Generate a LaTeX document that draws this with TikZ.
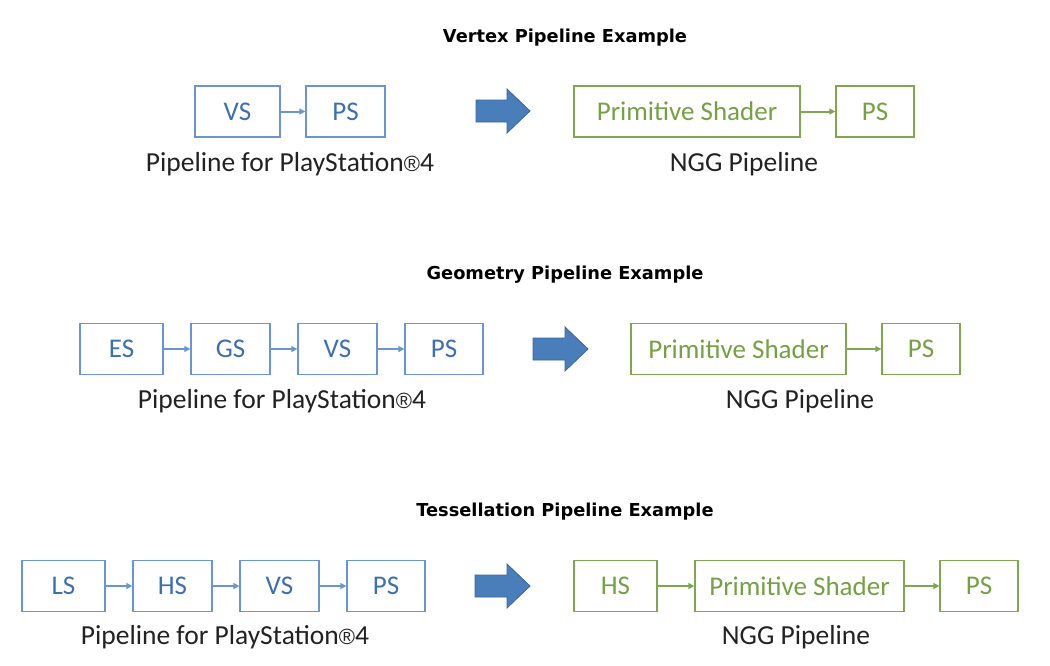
\documentclass[tikz,border=0pt]{standalone}
\usepackage{fontspec}
\setmainfont{Carlito}
\newfontfamily\titlefont{DejaVu Sans}
\newfontfamily\regfont{Liberation Sans}
\newcommand{\regmark}{{\regfont\fontsize{22}{26}\selectfont ®}}
\usetikzlibrary{arrows.meta}
\definecolor{bbord}{HTML}{6A95CF}
\definecolor{btext}{HTML}{3E6FAE}
\definecolor{gbord}{HTML}{7FA651}
\definecolor{gtext}{HTML}{75A045}
\definecolor{bfill}{HTML}{4A7EBB}
\definecolor{bdark}{HTML}{3A669A}
\definecolor{ltext}{HTML}{222222}
\begin{document}
\begin{tikzpicture}[x=1pt,y=-1pt,
  bbox/.style={draw=bbord,line width=1.3pt,text=btext,minimum height=51pt,inner sep=0pt,font=\fontsize{27}{31}\selectfont},
  gbox/.style={draw=gbord,line width=1.3pt,text=gtext,minimum height=51pt,inner sep=0pt,font=\fontsize{27}{31}\selectfont},
  barr/.style={draw=bbord,line width=2pt,-{Triangle[length=6pt,width=6pt]}},
  garr/.style={draw=gbord,line width=2pt,-{Triangle[length=6pt,width=6pt]}},
  lbl/.style={text=ltext,font=\fontsize{27.5}{31}\selectfont,inner sep=0pt},
  ttl/.style={text=black,font=\titlefont\bfseries\fontsize{17.8}{20}\selectfont,inner sep=0pt},
  bigarrow/.style={fill=bfill,draw=bdark,line width=0.8pt}]
\useasboundingbox (0,0) rectangle (1050,665);
\fill[white] (0,0) rectangle (1050,665);

% Row 1
\node[ttl] (t1) at (565,37.5) {Vertex Pipeline Example};
\node[bbox,minimum width=85pt] (v1vs) at (237.5,111.5) {VS};
\node[bbox,minimum width=79pt] (v1ps) at (345.5,111.5) {PS};
\draw[barr] (v1vs) -- (v1ps);
\node[lbl] (v1l) at (290,164) {Pipeline for PlayStation\regmark4};
\fill[bigarrow] (476,100) -- (507,100) -- (507,89) -- (530,111) -- (507,133) -- (507,122) -- (476,122) -- cycle;
\node[gbox,minimum width=226pt] (v1pr) at (687,111.5) {Primitive Shader};
\node[gbox,minimum width=78pt] (v1gps) at (875,111.5) {PS};
\draw[garr] (v1pr) -- (v1gps);
\node[lbl] (v1n) at (744,164) {NGG Pipeline};

% Row 2
\node[ttl] (t2) at (565,274.5) {Geometry Pipeline Example};
\node[bbox,minimum width=83pt] (g1es) at (121.5,349) {ES};
\node[bbox,minimum width=79pt] (g1gs) at (230.5,349) {GS};
\node[bbox,minimum width=79pt] (g1vs) at (337.5,349) {VS};
\node[bbox,minimum width=78pt] (g1ps) at (444,349) {PS};
\draw[barr] (g1es) -- (g1gs);
\draw[barr] (g1gs) -- (g1vs);
\draw[barr] (g1vs) -- (g1ps);
\node[lbl] (g1l) at (282,401) {Pipeline for PlayStation\regmark4};
\fill[bigarrow] (533,338) -- (565,338) -- (565,327) -- (588,349) -- (565,371) -- (565,360) -- (533,360) -- cycle;
\node[gbox,minimum width=215pt] (g1pr) at (738.5,349) {Primitive Shader};
\node[gbox,minimum width=78pt] (g1gps) at (921,349) {PS};
\draw[garr] (g1pr) -- (g1gps);
\node[lbl] (g1n) at (800,401) {NGG Pipeline};

% Row 3
\node[ttl] (t3) at (565,511.5) {Tessellation Pipeline Example};
\node[bbox,minimum width=83pt] (s1ls) at (63.5,586) {LS};
\node[bbox,minimum width=79pt] (s1hs) at (172.5,586) {HS};
\node[bbox,minimum width=79pt] (s1vs) at (279.5,586) {VS};
\node[bbox,minimum width=78pt] (s1ps) at (386,586) {PS};
\draw[barr] (s1ls) -- (s1hs);
\draw[barr] (s1hs) -- (s1vs);
\draw[barr] (s1vs) -- (s1ps);
\node[lbl] (s1l) at (225,637) {Pipeline for PlayStation\regmark4};
\fill[bigarrow] (475,575) -- (507,575) -- (507,564) -- (530,586) -- (507,608) -- (507,597) -- (475,597) -- cycle;
\node[gbox,minimum width=83pt] (s1ghs) at (615.5,586) {HS};
\node[gbox,minimum width=209pt] (s1pr) at (799.5,586) {Primitive Shader};
\node[gbox,minimum width=78pt] (s1gps) at (979,586) {PS};
\draw[garr] (s1ghs) -- (s1pr);
\draw[garr] (s1pr) -- (s1gps);
\node[lbl] (s1n) at (796,637) {NGG Pipeline};
\end{tikzpicture}
\end{document}
